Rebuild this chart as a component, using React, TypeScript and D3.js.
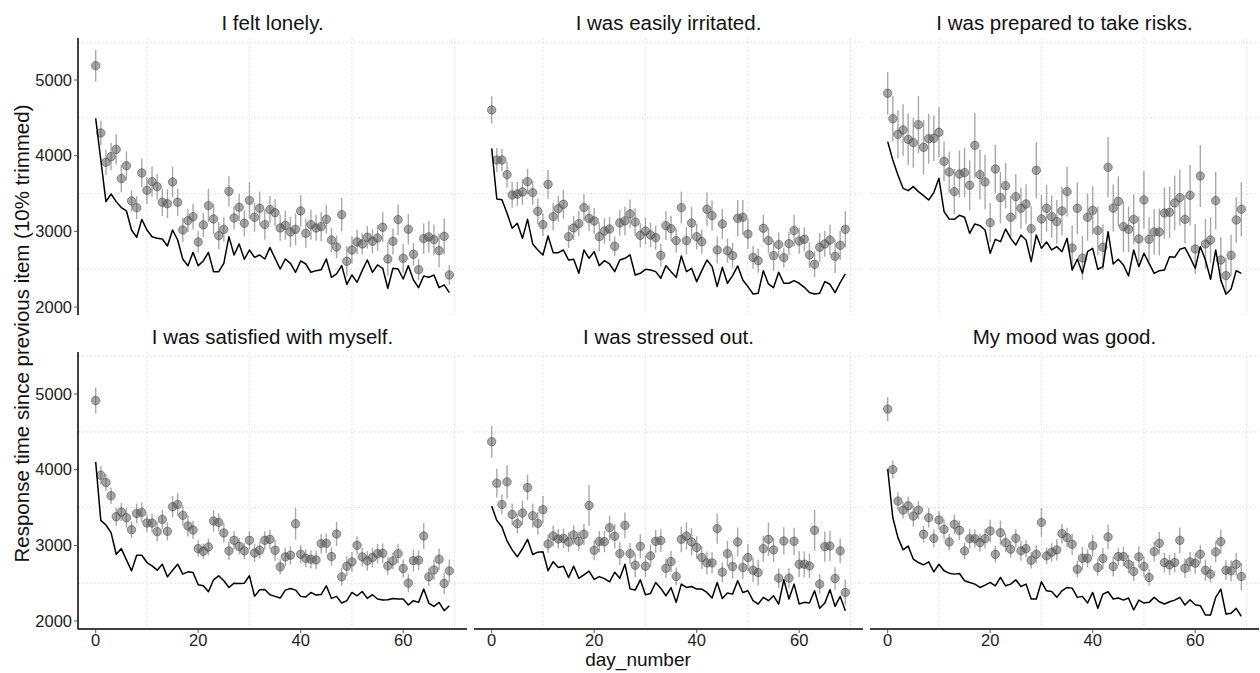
import React from 'react';
import * as d3 from 'd3';

// facet titles, in panel order (row by row)
const TITLES = [
  'I felt lonely.',
  'I was easily irritated.',
  'I was prepared to take risks.',
  'I was satisfied with myself.',
  'I was stressed out.',
  'My mood was good.',
];

const DAYS = Array.from({ length: 70 }, (_, i) => i);
const X_TICKS = [0, 20, 40, 60];
const X_GRID = [10, 30, 50, 70];
const Y_TICKS = [2000, 3000, 4000, 5000];
const Y_GRID = [2500, 3500, 4500, 5500];

// trimmed mean per day (points)
const meanLonely = [5190,4300,3913,3987,4084,3697,3868,3402,3314,3772,3543,3657,3591,3384,3366,3653,3384,3018,3142,3195,2860,3085,3340,3164,2944,3027,3529,3177,3318,3107,3410,3186,3305,3089,3287,3247,3045,3080,2992,3027,3270,2974,3089,3045,3063,3160,2886,2794,3221,2605,2754,2860,2834,2922,2869,2913,3054,2635,2869,3155,2644,3027,2697,2494,2904,2926,2891,2746,2935,2424];
const meanIrritated = [4604,3943,3943,3750,3481,3494,3521,3657,3512,3265,3089,3622,3195,3300,3358,2930,3045,3102,3314,3173,3138,2930,3005,3032,2803,3111,3138,3230,3124,2948,3005,2952,2917,2684,3076,3036,2878,3314,2878,3111,2930,2864,3292,3208,2754,3098,2745,2680,3173,3186,2966,2657,2613,3041,2878,2680,2825,2653,2838,3010,2873,2895,2688,2565,2790,2834,2886,2671,2816,3027];
const meanRisks = [4824,4489,4282,4340,4216,4172,4410,4111,4225,4230,4309,3926,3785,3525,3758,3776,3609,4137,3750,3653,3115,3824,3446,3604,3186,3459,3305,3362,3036,3807,3164,3305,3195,3129,3270,3525,2781,3305,2649,3186,3278,3010,2790,3846,3309,3397,3063,3027,3159,2900,3415,2895,2992,2992,3243,3252,3375,3446,3159,3477,2767,3732,2834,2886,3406,2622,2415,2684,3151,3292];
const meanSatisfied = [4914,3927,3831,3655,3379,3440,3365,3207,3422,3436,3295,3295,3181,3343,3185,3510,3541,3396,3256,3203,2957,2922,2979,3321,3304,3164,2927,3067,2988,2927,3067,2900,2935,3067,3080,2935,2716,2848,2870,3286,2883,2830,2817,2808,3023,3027,2852,3150,2584,2725,2782,3001,2848,2795,2839,2891,2896,2729,2795,2891,2694,2501,2799,2804,3124,2584,2676,2817,2497,2663];
const meanStressed = [4370,3822,3541,3839,3409,3286,3427,3765,3392,3291,3471,3019,3124,3085,3093,3045,3137,3054,3146,3528,2935,3049,3049,3234,3120,2891,3265,2891,2738,2988,2725,2861,3054,3063,2698,2786,2589,3080,3124,3045,2971,2839,2769,2769,3221,2646,2891,2720,3045,2707,2839,2672,2641,2957,3080,2940,2567,3058,2567,3054,2751,2751,2729,3199,2488,2984,2992,2562,2927,2378];
const meanMood = [4800,4002,3585,3466,3523,3387,3466,3146,3365,3093,3335,3212,3045,3278,3199,2927,3089,3089,3036,3089,3190,2883,3168,3036,2949,3093,2927,2957,2804,2883,3304,2861,2909,2940,3155,3102,3014,2685,2830,2830,2997,2707,2826,3111,2720,2852,2852,2751,2655,2848,2720,2575,2918,3028,2773,2742,2773,3067,2698,2782,2764,2883,2672,2620,2914,3049,2672,2663,2751,2589];

// error bar half widths
const errLonely = [210,160,170,180,200,180,190,140,150,190,180,200,170,180,190,200,180,160,150,170,140,160,220,200,180,160,200,150,180,170,240,190,220,200,180,180,170,190,200,210,210,190,200,170,190,190,160,150,220,200,180,160,140,150,160,170,200,220,170,200,190,200,150,140,200,210,200,220,240,130];
const errIrritated = [180,160,150,170,170,160,170,170,160,170,150,190,180,170,190,150,160,170,180,170,170,190,170,160,130,170,190,190,180,160,180,160,160,150,190,170,160,210,180,210,170,160,220,200,180,200,160,170,240,230,200,150,160,180,170,200,160,130,150,210,170,160,170,170,190,170,200,220,190,240];
const errRisks = [280,300,320,340,340,330,380,360,330,300,330,260,270,300,310,330,330,430,330,360,260,320,340,300,280,300,270,260,300,370,320,310,280,290,320,330,300,340,290,310,320,320,300,400,310,330,340,300,330,300,380,290,300,310,340,340,360,370,320,400,330,410,330,300,380,300,230,270,300,360];
const errSatisfied = [170,120,110,110,120,120,130,110,130,130,120,120,130,130,120,140,150,130,140,120,110,100,110,140,120,130,120,120,110,110,120,120,110,120,130,140,100,120,120,210,120,120,120,120,130,130,120,160,120,130,130,120,120,130,130,130,130,120,110,130,120,120,140,130,170,120,130,140,140,150];
const errStressed = [210,190,130,220,140,130,160,170,160,150,180,120,140,130,130,130,130,130,140,270,130,140,140,160,160,150,170,140,160,160,140,150,150,150,130,140,120,170,180,180,150,150,150,140,200,130,170,160,190,150,180,160,170,170,220,160,130,180,130,180,170,170,160,270,130,200,200,150,160,170];
const errMood = [160,120,120,110,120,140,120,110,130,120,120,130,110,130,130,110,130,120,120,130,150,110,160,120,110,120,130,110,110,120,190,110,120,140,130,130,140,110,150,120,140,110,140,160,130,110,130,120,130,140,130,110,130,150,130,130,130,170,130,130,140,120,140,110,140,160,130,140,150,180];

// black line per day
const lineLonely = [4494,3943,3393,3494,3393,3314,3270,3018,2922,3159,3018,2930,2908,2900,2807,3018,2886,2631,2547,2723,2547,2609,2723,2468,2468,2578,2930,2688,2834,2631,2754,2657,2688,2635,2785,2644,2503,2635,2578,2459,2609,2569,2459,2481,2494,2635,2393,2437,2547,2301,2424,2327,2481,2622,2459,2556,2512,2248,2512,2503,2371,2547,2358,2257,2411,2393,2424,2257,2292,2191];
const lineIrritated = [4097,3428,3419,3239,3041,3107,2908,3159,2834,2754,2688,2939,2719,2719,2754,2622,2631,2446,2754,2644,2732,2547,2613,2569,2468,2622,2644,2688,2424,2446,2499,2490,2468,2380,2547,2468,2393,2675,2468,2512,2336,2481,2622,2534,2270,2525,2314,2415,2543,2358,2270,2173,2182,2481,2305,2257,2459,2314,2314,2349,2314,2261,2191,2173,2182,2336,2301,2191,2323,2437];
const lineRisks = [4186,3943,3745,3569,3538,3591,3525,3472,3415,3512,3701,3261,3164,3159,3212,3186,2974,3098,3076,3018,2710,2895,2864,3032,2908,2820,2952,2886,2600,2952,2776,2860,2754,2798,2732,2908,2490,2631,2446,2732,2776,2499,2534,2996,2569,2631,2556,2411,2754,2534,2710,2578,2446,2481,2490,2666,2657,2763,2785,2657,2512,2798,2622,2367,2754,2358,2169,2239,2481,2446];
const lineSatisfied = [4103,3330,3269,3168,2883,2957,2808,2663,2870,2870,2773,2729,2672,2751,2584,2672,2751,2620,2650,2641,2479,2466,2387,2545,2598,2532,2444,2501,2497,2501,2598,2326,2413,2418,2348,2326,2304,2409,2431,2409,2326,2317,2378,2343,2352,2466,2299,2326,2238,2269,2378,2334,2391,2299,2348,2291,2277,2282,2299,2291,2291,2212,2269,2247,2422,2238,2194,2247,2137,2203];
const lineStressed = [3519,3330,3243,3058,2940,2850,2955,3080,2880,2910,2915,2665,2785,2707,2725,2576,2725,2565,2610,2660,2550,2587,2560,2519,2645,2565,2751,2425,2409,2545,2348,2365,2510,2431,2334,2440,2247,2488,2444,2457,2422,2422,2378,2304,2510,2299,2370,2356,2532,2378,2400,2269,2225,2313,2269,2334,2225,2545,2291,2488,2225,2247,2238,2400,2168,2238,2413,2194,2326,2137];
const lineMood = [4010,3365,3102,2940,2992,2817,2773,2743,2782,2650,2751,2664,2633,2620,2628,2532,2510,2488,2444,2475,2510,2466,2576,2466,2488,2545,2457,2488,2291,2291,2519,2400,2391,2313,2400,2444,2435,2313,2326,2238,2378,2168,2356,2387,2291,2304,2277,2304,2146,2277,2238,2247,2313,2255,2225,2255,2277,2313,2212,2282,2216,2203,2080,2080,2313,2422,2093,2102,2168,2062];

const MEANS = [meanLonely, meanIrritated, meanRisks, meanSatisfied, meanStressed, meanMood];
const ERRS = [errLonely, errIrritated, errRisks, errSatisfied, errStressed, errMood];
const LINES = [lineLonely, lineIrritated, lineRisks, lineSatisfied, lineStressed, lineMood];

const W = 1260;
const H = 673;
const PANEL_W = 389;
const PANEL_H = 277;
const COL_X = [78, 474, 870];
const ROW_Y = [38, 352];
const FONT = '"Liberation Sans", Arial, Helvetica, sans-serif';

const x = d3.scaleLinear().domain([-3.45, 72.45]).range([0, PANEL_W]);
const y = d3.scaleLinear().domain([1895, 5555]).range([PANEL_H, 0]);

const Panel = ({ idx }: { idx: number }) => {
  const col = idx % 3;
  const row = Math.floor(idx / 3);
  const left = COL_X[col];
  const top = ROW_Y[row];
  const means = MEANS[idx];
  const errs = ERRS[idx];
  const lineVals = LINES[idx];
  const line = d3.line<number>().x((_, i) => x(DAYS[i])).y(d => y(d));

  return (
    <g transform={`translate(${left},${top})`}>
      {/* grid (minor breaks only) */}
      {Y_GRID.map(v => (
        <line key={'gy' + v} x1={0} x2={PANEL_W} y1={y(v)} y2={y(v)}
          stroke="#dcdcdc" strokeWidth={0.8} strokeDasharray="2,2" />
      ))}
      {X_GRID.map(v => (
        <line key={'gx' + v} x1={x(v)} x2={x(v)} y1={0} y2={PANEL_H}
          stroke="#dcdcdc" strokeWidth={0.8} strokeDasharray="2,2" />
      ))}

      <text x={PANEL_W / 2} y={-8} textAnchor="middle" fontSize={20.5} fill="#111">{TITLES[idx]}</text>

      {/* error bars */}
      {DAYS.map(d => (
        <line key={'e' + d} x1={x(d)} x2={x(d)} y1={y(means[d] - errs[d])} y2={y(means[d] + errs[d])}
          stroke="#6e6e6e" strokeOpacity={0.6} strokeWidth={1.4} />
      ))}
      {/* points */}
      {DAYS.map(d => (
        <circle key={'p' + d} cx={x(d)} cy={y(means[d])} r={4.2}
          fill="#505050" fillOpacity={0.5} stroke="#3c3c3c" strokeOpacity={0.55} strokeWidth={0.9} />
      ))}
      <path d={line(lineVals) || ''} fill="none" stroke="#000" strokeWidth={1.5} strokeLinejoin="round" />

      {/* y axis, first column only */}
      {col === 0 && (
        <g>
          <line x1={0} x2={0} y1={0} y2={PANEL_H} stroke="#000" strokeWidth={1.5} />
          {Y_TICKS.map(v => (
            <g key={'yt' + v}>
              <line x1={-4} x2={0} y1={y(v)} y2={y(v)} stroke="#333" strokeWidth={0.8} />
              <text x={-6} y={y(v)} dy="0.35em" textAnchor="end" fontSize={16.5} fill="#222">{v}</text>
            </g>
          ))}
        </g>
      )}
      {/* x axis, bottom row only */}
      {row === 1 && (
        <g>
          <line x1={0} x2={PANEL_W} y1={PANEL_H} y2={PANEL_H} stroke="#000" strokeWidth={1.5} />
          {X_TICKS.map(v => (
            <g key={'xt' + v}>
              <line x1={x(v)} x2={x(v)} y1={PANEL_H} y2={PANEL_H + 4} stroke="#333" strokeWidth={0.8} />
              <text x={x(v)} y={PANEL_H + 17} textAnchor="middle" fontSize={16.5} fill="#222">{v}</text>
            </g>
          ))}
        </g>
      )}
    </g>
  );
};

export default function App() {
  return (
    <div style={{ position: 'absolute', left: 0, top: 0 }}>
      <svg width={W} height={H} style={{ display: 'block', background: '#fff' }} fontFamily={FONT}>
        {TITLES.map((_, i) => <Panel key={i} idx={i} />)}
        <text x={638} y={666} textAnchor="middle" fontSize={19} fill="#111">day_number</text>
        <text transform={`translate(29,${(ROW_Y[0] + ROW_Y[1] + PANEL_H) / 2}) rotate(-90)`} textAnchor="middle" fontSize={20.5} fill="#111">
          Response time since previous item (10% trimmed)
        </text>
      </svg>
    </div>
  );
}
